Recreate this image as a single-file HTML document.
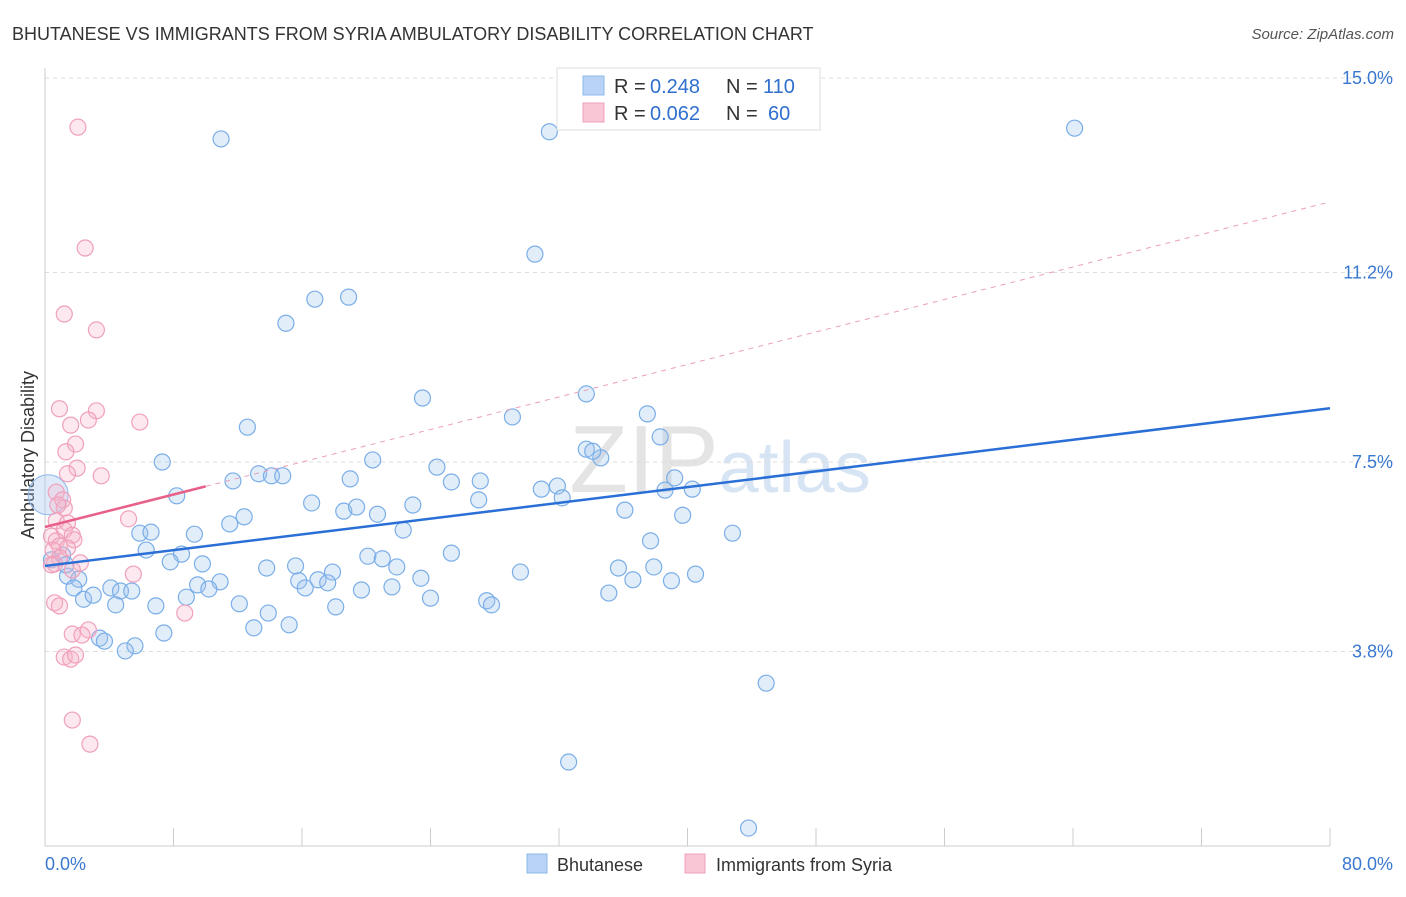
<!DOCTYPE html>
<html><head><meta charset="utf-8"><style>
body{margin:0;background:#fff;font-family:"Liberation Sans",sans-serif;}
svg text{font-family:"Liberation Sans",sans-serif;}
</style></head><body>
<svg id="chart" width="1406" height="892" xmlns="http://www.w3.org/2000/svg">
<text x="12" y="40" font-size="18" fill="#333">BHUTANESE VS IMMIGRANTS FROM SYRIA AMBULATORY DISABILITY CORRELATION CHART</text>
<text x="1394" y="39" font-size="15" fill="#555" text-anchor="end" font-style="italic">Source: ZipAtlas.com</text>
<text x="720" y="492" font-size="96" fill="#e4e4e4" text-anchor="middle" font-family="Liberation Serif">ZIP<tspan fill="#d6e4f4" font-family="Liberation Sans" font-size="72">atlas</tspan></text>
<text transform="translate(34,455) rotate(-90)" font-size="18" fill="#333" text-anchor="middle">Ambulatory Disability</text>
<g id="grid"></g><g id="axes"></g><g id="marks"></g><g id="lines"></g>
<g>
<rect x="557" y="68" width="263" height="62" fill="#fff" stroke="#ddd"/>
<rect x="583" y="76" width="21" height="19" fill="#b8d3f5" stroke="#8db8ec"/>
<rect x="583" y="103" width="21" height="19" fill="#f9c6d6" stroke="#f0a0bc"/>
<text x="614" y="93" font-size="20" fill="#333">R =</text>
<text x="650" y="93" font-size="20" fill="#2f6fce">0.248</text>
<text x="726" y="93" font-size="20" fill="#333">N =</text>
<text x="763" y="93" font-size="20" fill="#2f6fce">110</text>
<text x="614" y="120" font-size="20" fill="#333">R =</text>
<text x="650" y="120" font-size="20" fill="#2f6fce">0.062</text>
<text x="726" y="120" font-size="20" fill="#333">N =</text>
<text x="768" y="120" font-size="20" fill="#2f6fce">60</text>
</g>
<g>
<rect x="527" y="854" width="20" height="19" fill="#b8d3f5" stroke="#8db8ec"/>
<text x="557" y="871" font-size="18" fill="#333">Bhutanese</text>
<rect x="685" y="854" width="20" height="19" fill="#f9c6d6" stroke="#f0a0bc"/>
<text x="716" y="871" font-size="18" fill="#333">Immigrants from Syria</text>
</g>
</svg>
<script>
const yTicks=[3.8,7.5,11.2,15.0];
const yTickLabels=["3.8%","7.5%","11.2%","15.0%"];
const xTickLabels=["0.0%","80.0%"];
const blueX=[10.96,31.4,64.1,30.5,15.0,16.8,18.9,23.5,33.7,29.1,37.5,12.6,38.3,33.7,34.6,34.1,7.3,20.4,24.4,13.3,14.1,14.8,11.7,19.0,25.3,27.1,39.2,8.2,30.9,31.9,38.6,40.3,16.6,32.2,27.0,22.9,18.6,19.4,20.7,36.1,39.7,12.4,11.5,22.3,42.8,5.9,6.6,9.3,37.7,6.3,8.5,25.3,20.1,21.0,7.8,9.8,15.6,21.9,13.8,35.7,37.9,17.9,29.6,40.5,23.4,17.0,17.6,15.8,36.6,39.0,10.9,9.5,2.1,1.4,4.1,10.2,16.2,21.6,19.7,1.8,4.7,5.4,8.8,24.0,35.1,2.4,3.0,27.5,27.8,4.4,6.9,12.1,18.1,13.9,15.2,13.0,7.4,3.4,3.7,5.6,5.0,44.9,32.6,43.8,1.1,1.3,0.4];
const blueY=[13.81,13.95,14.02,11.56,10.21,10.68,10.72,8.75,8.83,8.38,8.44,8.18,7.99,7.75,7.58,7.71,7.5,7.54,7.40,7.27,7.23,7.23,7.13,7.17,7.11,7.13,7.19,6.84,6.97,7.03,6.95,6.97,6.70,6.80,6.76,6.66,6.54,6.62,6.48,6.56,6.46,6.43,6.29,6.17,6.11,6.11,6.13,6.09,5.96,5.78,5.70,5.72,5.66,5.61,5.55,5.51,5.47,5.45,5.43,5.43,5.45,5.35,5.35,5.31,5.23,5.2,5.14,5.18,5.2,5.18,5.16,5.1,5.21,5.27,5.04,5.02,5.04,5.06,5.0,5.04,4.98,4.98,4.86,4.84,4.94,4.82,4.90,4.79,4.71,4.71,4.69,4.73,4.67,4.55,4.32,4.26,4.16,4.06,4.0,3.91,3.81,3.18,1.64,0.35,5.68,5.49,5.59];
const pinkX=[2.05,2.5,1.2,3.2,0.9,3.2,5.9,1.6,2.7,1.9,1.3,2.0,1.4,3.5,0.7,1.1,1.2,0.8,5.2,0.7,1.4,1.2,1.7,0.4,0.7,0.9,1.8,0.5,1.4,0.9,0.6,2.2,1.7,5.5,0.6,0.9,8.7,2.7,1.7,2.3,1.2,1.6,1.9,1.7,2.8,0.4];
const pinkY=[14.04,11.68,10.39,10.08,8.54,8.50,8.28,8.22,8.32,7.85,7.70,7.38,7.27,7.23,6.91,6.76,6.60,6.66,6.39,6.35,6.31,6.17,6.07,6.05,5.96,5.86,5.98,5.78,5.82,5.63,5.51,5.53,5.39,5.31,4.75,4.69,4.55,4.22,4.14,4.12,3.69,3.65,3.73,2.46,1.99,5.49];
const blueTrend=[5.47,8.55];
const pinkTrend=[6.23,12.58];
const NS="http://www.w3.org/2000/svg";
const X=v=>45+v*(1285/80);
const Y=v=>846-v*51.2;
function mk(tag,parent,attrs){const e=document.createElementNS(NS,tag);for(const k in attrs)e.setAttribute(k,attrs[k]);document.getElementById(parent).appendChild(e);return e;}
yTicks.forEach((t,i)=>{
 const g=mk('line','grid',{x1:45,x2:1394,y1:Y(t),y2:Y(t),stroke:'#ddd','stroke-dasharray':'4,4'});
 
 
 const l=mk('text','axes',{x:1393,y:Y(t)+6,'font-size':18,fill:'#3a78d0','text-anchor':'end'});
 l.textContent=yTickLabels[i];
 
 
});
const topLine=mk('line','grid',{x1:45,x2:1394,y1:Y(15),y2:Y(15),stroke:'#ddd','stroke-dasharray':'4,4'});


const ya=mk('line','axes',{x1:45,x2:45,y1:68,y2:846,stroke:'#ccc'});


const xa=mk('line','axes',{x1:45,x2:1330,y1:846,y2:846,stroke:'#ccc'});


for(let i=0;i<=10;i++){
 const t=mk('line','axes',{x1:X(i*8),x2:X(i*8),y1:828,y2:846,stroke:'#ccc'});
 
 
}
const xl0=mk('text','axes',{x:45,y:870,'font-size':18,fill:'#3a78d0'});
xl0.textContent=xTickLabels[0];


const xl1=mk('text','axes',{x:1393,y:870,'font-size':18,fill:'#3a78d0','text-anchor':'end'});
xl1.textContent=xTickLabels[1];


const big=mk('circle','marks',{cx:X(0.2),cy:Y(6.86),r:20,fill:'rgba(160,196,240,0.35)',stroke:'#8db8ec'});


blueX.forEach((x,i)=>{
 const c=mk('circle','marks',{cx:X(x),cy:Y(blueY[i]),r:8,fill:'rgba(160,196,240,0.3)',stroke:'#7aaee8','stroke-width':1.2});
 
 
});
pinkX.forEach((x,i)=>{
 const c=mk('circle','marks',{cx:X(x),cy:Y(pinkY[i]),r:8,fill:'rgba(245,180,200,0.3)',stroke:'#f0a0bc','stroke-width':1.2});
 
 
});
const bl=mk('line','lines',{x1:X(0),y1:Y(blueTrend[0]),x2:X(80),y2:Y(blueTrend[1]),stroke:'#2a6fd6','stroke-width':2.5});


const pv=x=>pinkTrend[0]+(pinkTrend[1]-pinkTrend[0])*x/80;
const pd=mk('line','lines',{x1:X(10),y1:Y(pv(10)),x2:X(80),y2:Y(pv(80)),stroke:'#eaa0b8','stroke-width':1,'stroke-dasharray':'5,5'});


const ps=mk('line','lines',{x1:X(0),y1:Y(pv(0)),x2:X(10),y2:Y(pv(10)),stroke:'#e8608a','stroke-width':2.5});


</script>
</body></html>
